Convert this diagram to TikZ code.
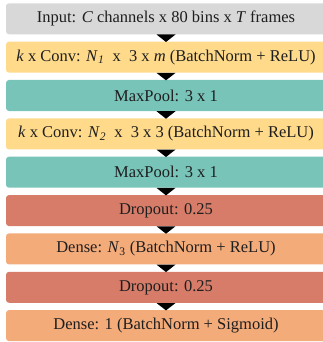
\documentclass[tikz,border=0pt]{standalone}
\usepackage{fontspec}
\setmainfont{Liberation Serif}
\definecolor{inputgray}{RGB}{216, 216, 216}
\definecolor{convyellow}{RGB}{254, 218, 138}
\definecolor{poolteal}{RGB}{120, 196, 185}
\definecolor{dropred}{RGB}{215, 124, 105}
\definecolor{denseorange}{RGB}{243, 171, 122}
\definecolor{textdark}{RGB}{30, 30, 30}

\begin{document}
\begin{tikzpicture}[x=1pt, y=1pt,
        every node/.style={rounded corners=3pt, minimum width=320pt, minimum height=31pt, inner sep=0pt, align=center, text=textdark, font=\fontsize{16.5}{19}\selectfont},
        flowtip/.style={fill=black}
      ]
        \useasboundingbox (0,0) rectangle (323,-342);
        \node[fill=inputgray] (input) at (166,-18.8) {Input: \textit{C} channels x 80 bins x \textit{T} frames};
        \node[fill=convyellow] (convA) at (166,-57.2) {\textit{k} x Conv: \textit{N}\textsubscript{\textit{1}}~~x~~3 x \textit{m} (BatchNorm + ReLU)};
        \node[fill=poolteal] (poolA) at (166,-95.5) {MaxPool: 3 x 1};
        \node[fill=convyellow] (convB) at (166,-133.9) {\textit{k} x Conv: \textit{N}\textsubscript{\textit{2}}~~x~~3 x 3 (BatchNorm + ReLU)};
        \node[fill=poolteal] (poolB) at (166,-172.2) {MaxPool: 3 x 1};
        \node[fill=dropred] (dropA) at (166,-210.6) {Dropout: 0.25};
        \node[fill=denseorange] (denseA) at (166,-248.9) {Dense: \textit{N}\textsubscript{3} (BatchNorm + ReLU)};
        \node[fill=dropred] (dropB) at (166,-287.3) {Dropout: 0.25};
        \node[fill=denseorange] (denseB) at (166,-325.6) {Dense: 1 (BatchNorm + Sigmoid)};
        % arrow heads between the layers
        \foreach \a/\b in {input/convA, convA/poolA, poolA/convB, convB/poolB, poolB/dropA, dropA/denseA, denseA/dropB, dropB/denseB}
          \fill[flowtip] ([xshift=-9.5pt]\a.south) -- ([xshift=9.5pt]\a.south) -- ([yshift=-0.5pt]\b.north) -- cycle;
      \end{tikzpicture}
\end{document}
